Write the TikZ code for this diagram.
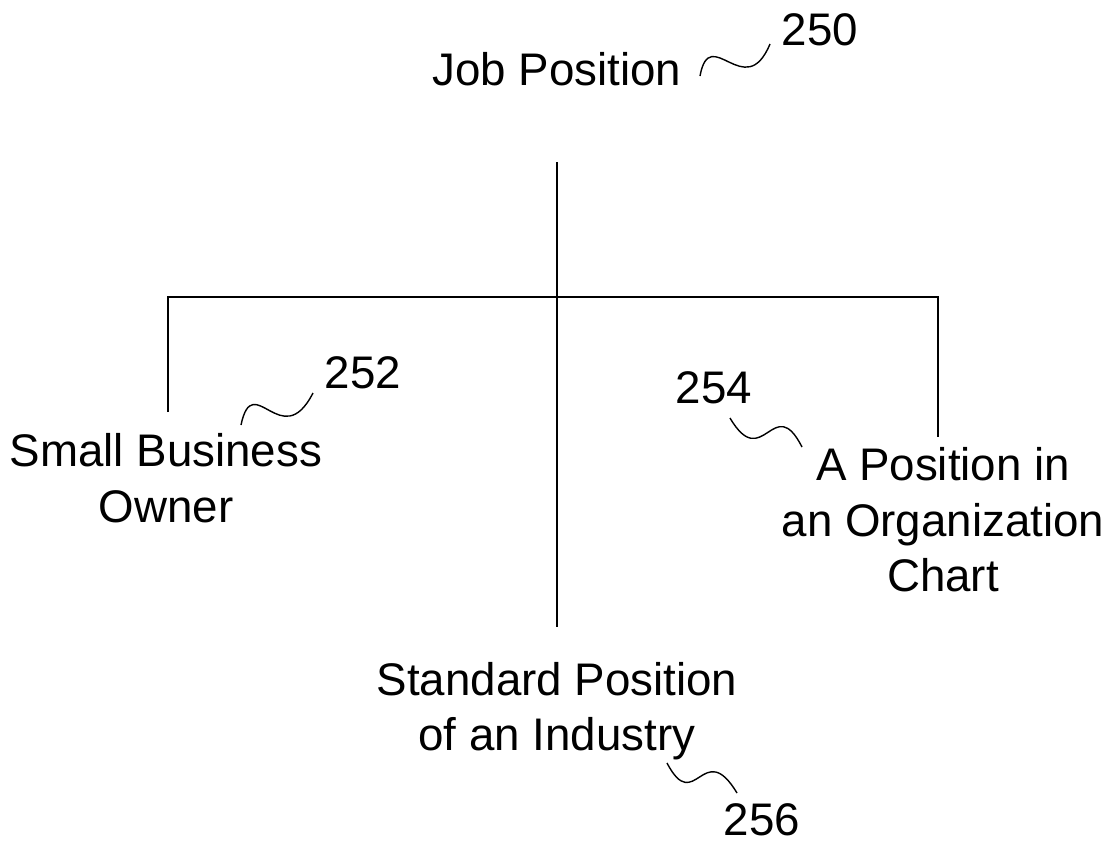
\documentclass[tikz,border=0pt]{standalone}
\usepackage{fontspec}
\setmainfont{Liberation Sans}
\usetikzlibrary{positioning}

\begin{document}
\begin{tikzpicture}
  \tikzset{label text/.style={font=\fontsize{26}{31.5}\selectfont,align=center,inner sep=0pt},
           leader/.style={line width=0.8pt},
           branch/.style={line width=0.8pt}}

  \useasboundingbox (0,0) rectangle (22.36,-16.94);

%%%%%%%%%%%%%%%%%%%%%%%%%%
  \node[label text] (NJob) at (11.14,-1.38) {Job Position};
  \node[label text] (N250) at (16.40,-0.60) {250};

%%%%%%%%%%%%%%%%%%%%%%%%%%
  \node[label text] (NSmall) at (3.32,-9.56) {Small Business\\Owner};
  \node[label text] (N252) at (7.26,-7.46) {252};

%%%%%%%%%%%%%%%%%%%%%%%%%%
  \node[label text] (NOrgChart) at (18.86,-10.40) {A Position in\\an Organization\\Chart};
  \node[label text] (N254) at (14.28,-7.76) {254};

%%%%%%%%%%%%%%%%%%%%%%%%%%
  \node[label text] (NIndustry) at (11.14,-14.22) {Standard Position\\of an Industry};
  \node[label text] (N256) at (15.24,-16.40) {256};

%TREE
  \coordinate (TreeTop) at (11.14,-3.24);
  \coordinate (TreeBottom) at (11.14,-12.54);
  \coordinate (BarLeft) at (3.36,-5.94);
  \coordinate (BarRight) at (18.76,-5.94);
  \coordinate (DropLeft) at (3.36,-8.24);
  \coordinate (DropRight) at (18.76,-8.74);

  \draw[branch] (TreeTop) -- (TreeBottom);
  \draw[branch] (DropLeft) -- (BarLeft) -- (BarRight) -- (DropRight);

%LEADERS
  \coordinate (L250a) at (14.00,-1.52);
  \coordinate (L250b) at (15.40,-0.88);
  \coordinate (L252a) at (4.82,-8.50);
  \coordinate (L252b) at (6.26,-7.86);
  \coordinate (L254a) at (14.60,-8.36);
  \coordinate (L254b) at (16.04,-8.94);
  \coordinate (L256a) at (13.34,-15.26);
  \coordinate (L256b) at (14.74,-15.86);

  \draw[leader] (L250a) .. controls +(0.20,1.08) and +(-0.50,-1.20) .. (L250b);
  \draw[leader] (L252a) .. controls +(0.24,1.14) and +(-0.63,-1.23) .. (L252b);
  \draw[leader] (L254a) .. controls +(0.66,-1.12) and +(-0.57,1.12) .. (L254b);
  \draw[leader] (L256a) .. controls +(0.56,-1.07) and +(-0.68,1.13) .. (L256b);

\end{tikzpicture}
\end{document}
